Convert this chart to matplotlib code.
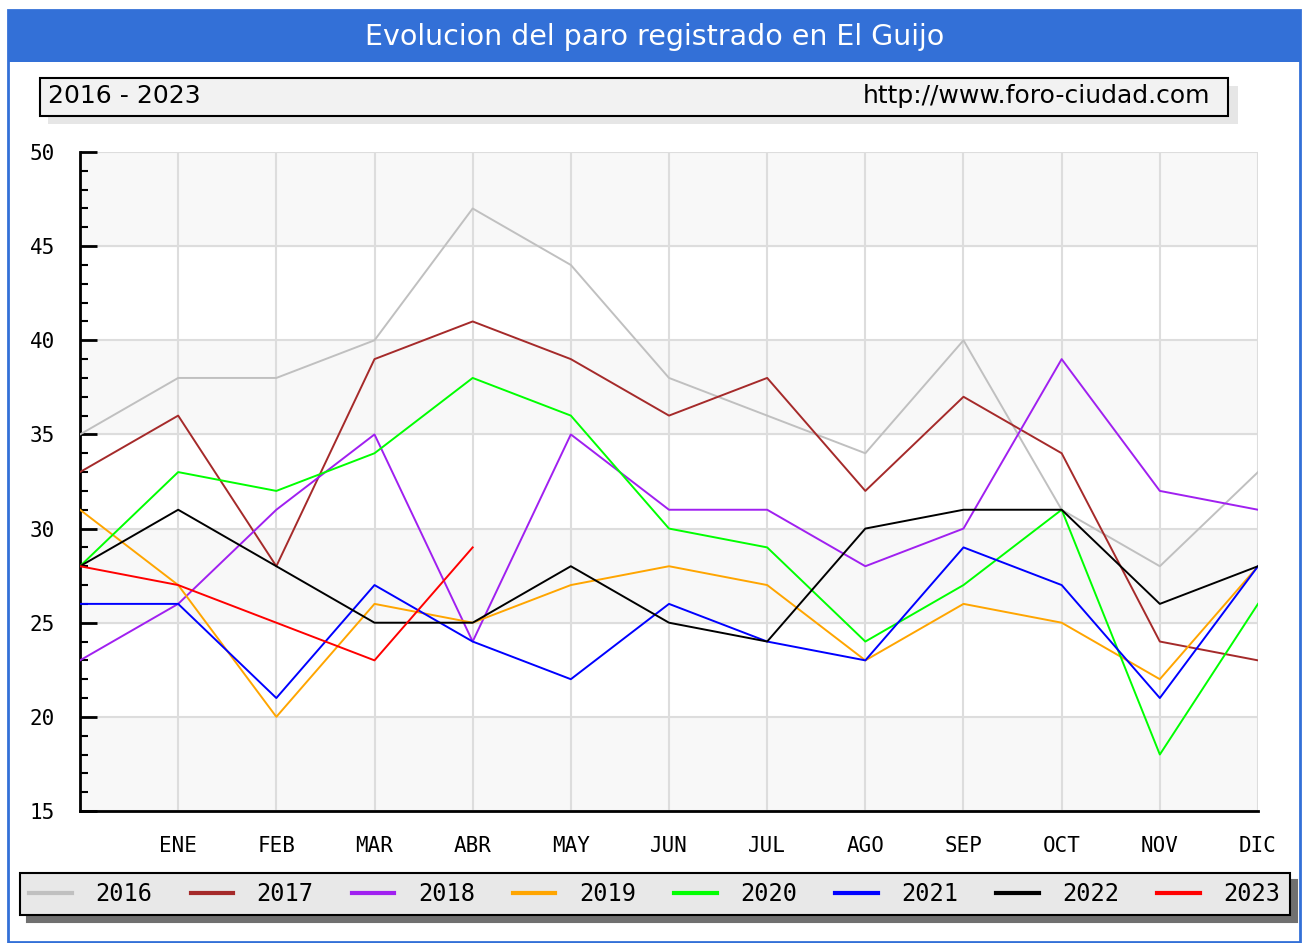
import matplotlib
matplotlib.use('Agg')
import matplotlib.pyplot as plt
from matplotlib.patches import Rectangle
from matplotlib.ticker import MultipleLocator

# Data (first point = December of previous year)
months = ['', 'ENE', 'FEB', 'MAR', 'ABR', 'MAY', 'JUN', 'JUL', 'AGO', 'SEP', 'OCT', 'NOV', 'DIC']
years = ['2016', '2017', '2018', '2019', '2020', '2021', '2022', '2023']
colors = ['#c0c0c0', '#a52a2a', '#a020f0', '#ffa500', '#00ff00', '#0000ff', '#000000', '#ff0000']

paro_2016 = [35, 38, 38, 40, 47, 44, 38, 36, 34, 40, 31, 28, 33]
paro_2017 = [33, 36, 28, 39, 41, 39, 36, 38, 32, 37, 34, 24, 23]
paro_2018 = [23, 26, 31, 35, 24, 35, 31, 31, 28, 30, 39, 32, 31]
paro_2019 = [31, 27, 20, 26, 25, 27, 28, 27, 23, 26, 25, 22, 28]
paro_2020 = [28, 33, 32, 34, 38, 36, 30, 29, 24, 27, 31, 18, 26]
paro_2021 = [26, 26, 21, 27, 24, 22, 26, 24, 23, 29, 27, 21, 28]
paro_2022 = [28, 31, 28, 25, 25, 28, 25, 24, 30, 31, 31, 26, 28]
paro_2023 = [28, 27, 25, 23, 29]

series = [paro_2016, paro_2017, paro_2018, paro_2019, paro_2020, paro_2021, paro_2022, paro_2023]

W, H = 1304, 943
fig = plt.figure(figsize=(W / 100, H / 100), dpi=100)


def fx(px):
    return px / W


def fy(py):
    return 1 - py / H


# outer frame and title band
fig.patches.append(Rectangle((fx(8), fy(942)), fx(1292), 932 / H, transform=fig.transFigure,
                             facecolor='white', edgecolor='#3370d7', linewidth=2, zorder=-3))
fig.patches.append(Rectangle((fx(8), fy(62)), fx(1292), 52 / H, transform=fig.transFigure,
                             facecolor='#3370d7', edgecolor='none', zorder=-2))
fig.text(fx(655), fy(37), 'Evolucion del paro registrado en El Guijo', color='white',
         fontsize=20.5, ha='center', va='center', family='DejaVu Sans')

# subtitle box with shadow
fig.patches.append(Rectangle((fx(48), fy(124)), fx(1190), 38 / H, transform=fig.transFigure,
                             facecolor='#e6e6e6', edgecolor='none', zorder=-2))
fig.patches.append(Rectangle((fx(40), fy(116)), fx(1188), 38 / H, transform=fig.transFigure,
                             facecolor='#f2f2f2', edgecolor='black', linewidth=1.5, zorder=-1))
fig.text(fx(48), fy(96), '2016 - 2023', fontsize=18, ha='left', va='center')
fig.text(fx(1210), fy(96), 'http://www.foro-ciudad.com', fontsize=18, ha='right', va='center')

# plot area
ax = fig.add_axes([fx(80), fy(811), fx(1258 - 80), (811 - 152) / H])
ax.set_zorder(5)
ax.set_xlim(0, 12)
ax.set_ylim(15, 50)

for lo in (15, 25, 35, 45):
    ax.axhspan(lo, lo + 5, color='#f8f8f8', zorder=0)

ax.grid(True, color='#dddddd', linewidth=1.5, zorder=1)
ax.set_axisbelow(True)

x = list(range(13))
for yr, col, vals in zip(years, colors, series):
    ax.plot(x[:len(vals)], vals, color=col, linewidth=1.4, label=yr, zorder=3)

ax.set_xticks(x)
ax.set_xticklabels(months, family='DejaVu Sans Mono', fontsize=15)
ax.yaxis.set_major_locator(MultipleLocator(5))
ax.yaxis.set_minor_locator(MultipleLocator(1))
ax.tick_params(axis='y', which='major', direction='in', length=12, width=2,
               labelsize=15, pad=18)
ax.tick_params(axis='y', which='minor', direction='in', length=6, width=1.5)
ax.tick_params(axis='x', which='major', direction='in', length=0, pad=18)
for lab in ax.get_yticklabels():
    lab.set_family('DejaVu Sans Mono')

for side in ('top', 'right'):
    ax.spines[side].set_visible(False)
ax.spines['left'].set_linewidth(2)
ax.spines['bottom'].set_linewidth(2)

# legend
leg = fig.legend(loc='center', ncol=8, mode='expand',
                 bbox_to_anchor=(fx(20), fy(920), fx(1270), 52 / H),
                 fancybox=False, shadow={'color': '#707070', 'alpha': 1, 'ox': 5, 'oy': -5},
                 facecolor='#e8e8e8', edgecolor='black', framealpha=1,
                 handlelength=1.8, handletextpad=1.0, borderaxespad=0,
                 prop={'family': 'DejaVu Sans Mono', 'size': 17})
leg.get_frame().set_linewidth(1.5)
for line in leg.get_lines():
    line.set_linewidth(3)

fig.savefig('out.png', dpi=100)
